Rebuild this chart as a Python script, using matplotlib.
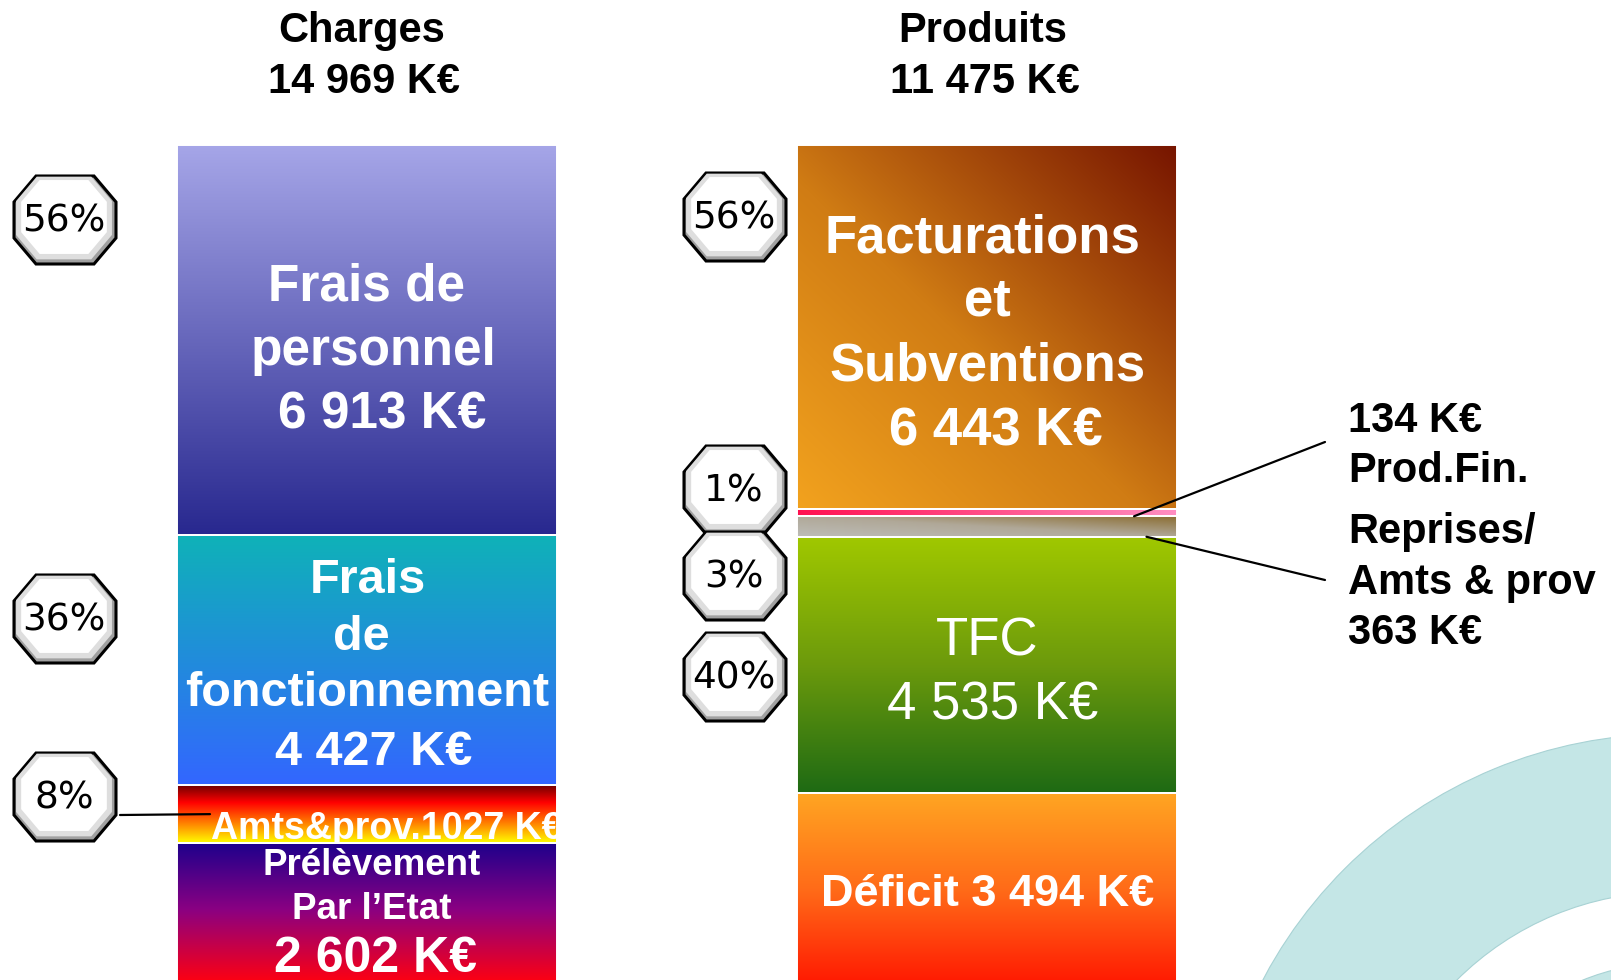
import numpy as np
import matplotlib.pyplot as plt
from matplotlib.patches import Polygon, Wedge
from matplotlib.colors import to_rgb

# Charges (colonne de gauche), en K€
charges_names = ["Frais de personnel", "Frais de fonctionnement", "Amts&prov.", "Prélèvement Par l'Etat"]
charges_values = [6913, 4427, 1027, 2602]
charges_pct = ["56%", "36%", "8%"]

# Produits (colonne de droite), en K€ ; le dernier bloc est le déficit
produits_names = ["Facturations et Subventions", "Prod.Fin.", "Reprises/ Amts & prov", "TFC", "Déficit"]
produits_values = [6443, 134, 363, 4535, 3494]
produits_pct = ["56%", "1%", "3%", "40%"]

titles = ["Charges", "Produits"]

W, H = 1611, 980
FONT = "Liberation Sans"


def keur(v):
    return f"{v:,}".replace(",", " ") + " K€"


def ramp(stops, n=256):
    t = np.linspace(0, 1, n)
    pos = [p for p, c in stops]
    cols = np.array([to_rgb(c) for p, c in stops])
    return np.stack([np.interp(t, pos, cols[:, k]) for k in range(3)], axis=-1)


def vertical(stops):
    return ramp(stops)[:, None, :]


def horizontal(stops):
    return ramp(stops)[None, :, :]


def diagonal(stops, n=128):
    lut = ramp(stops, 256)
    u = np.linspace(0, 1, n)[None, :]
    v = np.linspace(0, 1, n)[:, None]
    t = ((u + (1 - v)) / 2 * 255).astype(int)
    return lut[t]


charges_fill = [
    vertical([(0, "#a6a6e8"), (1, "#28288f")]),
    vertical([(0, "#0fb2b8"), (1, "#3366ff")]),
    vertical([(0, "#700000"), (0.3, "#ff0000"), (0.7, "#ff9000"), (1, "#ffff00")]),
    vertical([(0, "#1e008c"), (0.45, "#8a0082"), (0.95, "#ff0010"), (1, "#ff0000")]),
]
produits_fill = [
    diagonal([(0, "#f2a21e"), (0.45, "#d07c14"), (1, "#761400")]),
    horizontal([(0, "#ff1050"), (1, "#ff8ec2")]),
    diagonal([(0, "#bdbdb8"), (0.5, "#b0a898"), (1, "#8a6c30")]),
    vertical([(0, "#a0c800"), (0.5, "#6c9a0c"), (1, "#1e6a14")]),
    vertical([(0, "#ffa622"), (0.5, "#ff6a18"), (1, "#ff1400")]),
]

fig = plt.figure(figsize=(W / 100, H / 100), dpi=100)
fig.patch.set_facecolor("white")

# axes des barres : x = colonne, y = K€ (vers le bas)
ax = fig.add_axes([0, 0, 1, 1], zorder=1)
ax.set_autoscale_on(False)
ax.axis("off")
unit = 620.5
top_px, kpx = 145, 17.715
ax.set_xlim(-367 / unit, (W - 367) / unit)
ax.set_ylim((H - top_px) * kpx, -top_px * kpx)
bw = 380 / unit

# axes en pixels pour le décor et les annotations
ov = fig.add_axes([0, 0, 1, 1], zorder=2)
ov.set_xlim(0, W)
ov.set_ylim(H, 0)
ov.axis("off")
ov.patch.set_visible(False)


def stack(x, values, fills):
    bottoms = np.concatenate([[0], np.cumsum(values)[:-1]])
    bars = ax.bar(x, values, bottom=bottoms, width=bw, facecolor="none",
                  edgecolor="white", linewidth=1.4, zorder=3)
    for b, g in zip(bars, fills):
        x0, y0 = b.get_x(), b.get_y()
        x1, y1 = x0 + b.get_width(), y0 + b.get_height()
        im = ax.imshow(g, extent=(x0, x1, y1, y0), origin="upper", aspect="auto",
                       interpolation="bilinear", zorder=2)
        im.set_clip_path(b)
    return bars, bottoms


def put(x, y, s, dx, dy, size, weight="bold", color="white", ha="center"):
    return ax.annotate(s, xy=(x, y), xytext=(dx, -dy), textcoords="offset pixels",
                       ha=ha, va="baseline", color=color, fontsize=size,
                       fontweight=weight, family=FONT, zorder=4, annotation_clip=False)


cb, c_bot = stack(0, charges_values, charges_fill)
pb, p_bot = stack(1, produits_values, produits_fill)
c_mid = c_bot + np.array(charges_values) / 2
p_mid = p_bot + np.array(produits_values) / 2

# titres
for x, tot, name, dx in [(0, sum(charges_values), titles[0], -5),
                         (1, sum(produits_values[:-1]), titles[1], -5)]:
    put(x, 0, name, dx, -103, 30, color="black")
    put(x, 0, keur(tot), dx + 2, -52, 30, color="black")

# textes des charges
put(0, c_mid[0], "Frais de", 0, -40, 37)
put(0, c_mid[0], "personnel", 6, 25, 37)
put(0, c_mid[0], keur(charges_values[0]), 15, 88, 37)

put(0, c_mid[1], "Frais", 1, -67, 35)
put(0, c_mid[1], "de", -6, -10, 35)
put(0, c_mid[1], "fonctionnement", 0, 46, 35)
put(0, c_mid[1], keur(charges_values[1]), 7, 105, 35)

t = put(-bw / 2, c_bot[2] + charges_values[2], "Amts&prov.%d K€" % charges_values[2], 34, -4, 27, ha="left")
t.set_clip_on(True)
t.set_clip_path(cb[2])

put(0, c_bot[3], "Prélèvement", 5, 32, 26.5)
put(0, c_bot[3], "Par l’Etat", 5, 76, 26.5)
put(0, c_bot[3], keur(charges_values[3]), 9, 129, 36)

# textes des produits
put(1, p_mid[0], "Facturations", -5, -74, 38)
put(1, p_mid[0], "et", 0, -11, 38)
put(1, p_mid[0], "Subventions", 0, 54, 38)
put(1, p_mid[0], keur(produits_values[0]), 8, 119, 38)

put(1, p_mid[3], "TFC", 0, -9, 38, weight="normal")
put(1, p_mid[3], keur(produits_values[3]), 5, 55, 38, weight="normal")

put(1, p_bot[4], "Déficit " + keur(produits_values[4]), 0, 113, 32.5)

# traits de rappel
for k, end in [(1, (1325, 442)), (2, (1325, 580))]:
    ax.annotate("", xy=(1 + bw / 2 - 0.07 + 0.02 * (k - 1), p_bot[k] + produits_values[k]),
                xytext=end, textcoords=ov.transData,
                arrowprops=dict(arrowstyle="-", lw=1.6, color="black", shrinkA=0, shrinkB=0),
                zorder=5)
ax.annotate("", xy=(-bw / 2 + 33 / unit, c_mid[2]), xytext=(120, 815), textcoords=ov.transData,
            arrowprops=dict(arrowstyle="-", lw=1.6, color="black", shrinkA=0, shrinkB=0), zorder=5)

right_lines = [keur(produits_values[1]), produits_names[1],
               "Reprises/", "Amts & prov", keur(produits_values[2])]
for s, yb in zip(right_lines, [432, 482, 543, 594, 644]):
    ov.text(1348, yb, s, ha="left", va="baseline", fontsize=30, fontweight="bold",
            family=FONT, color="black")

# décor : anneaux en bas à droite
ov.add_patch(Wedge((1670, 1194), 460, 0, 360, width=158, facecolor="#c4e6e6",
                   edgecolor="#a8d2d4", lw=0.8, zorder=0))
ov.add_patch(Wedge((1670, 1194), 231, 0, 360, width=110, facecolor="#c4e6e6",
                   edgecolor="#a8d2d4", lw=0.8, zorder=0))


# pastilles octogonales
def badge(cx, cy, s):
    base = np.array([(-29, -44), (29, -44), (51, -18), (51, 18),
                     (29, 44), (-29, 44), (-51, 18), (-51, -18)], dtype=float)
    ov.add_patch(Polygon(base + (cx, cy), closed=True, facecolor="#a0a0a0",
                         edgecolor="black", lw=2.2, zorder=6))
    ov.add_patch(Polygon(base * 0.94 + (cx - 1, cy - 2), closed=True, facecolor="#dedede",
                         edgecolor="none", zorder=6))
    ov.add_patch(Polygon(base * 0.84 + (cx - 1, cy - 3), closed=True, facecolor="white",
                         edgecolor="none", zorder=6))
    ov.text(cx - 1, cy + 1, s, ha="center", va="center", fontsize=27,
            family="DejaVu Sans", color="black", zorder=7)


for s, cy in zip(charges_pct, [220, 619, 797]):
    badge(65, cy, s)
for s, cy in zip(produits_pct, [217, 490, 576, 677]):
    badge(735, cy, s)

fig.savefig("out.png", dpi=100)
